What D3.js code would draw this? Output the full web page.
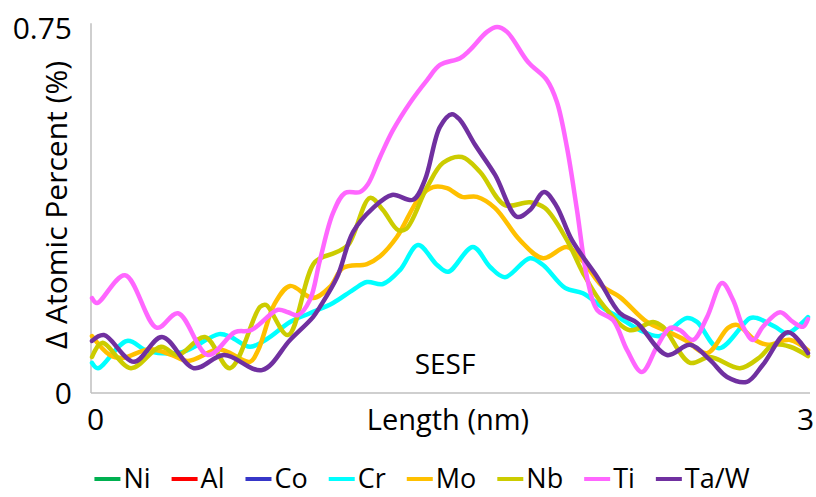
<!DOCTYPE html>
<html>
<head>
<meta charset="utf-8">
<script src="https://cdn.jsdelivr.net/npm/d3@7"></script>
<style>
  body { margin: 0; background: #fff; }
  text { font-family: "Open Sans", sans-serif; fill: #000; }
</style>
</head>
<body>
<svg id="chart" width="816" height="497"></svg>
<script>
// Axis ticks
const xTicks = [0, 3];
const yTicks = [0, 0.75];

// Series names and colours (legend order = drawing order)
const seriesNames = ["Ni", "Al", "Co", "Cr", "Mo", "Nb", "Ti", "Ta/W"];
const seriesColors = ["#00B050", "#FF0000", "#3636C8", "#00FFFF", "#FFC000", "#CCCC00", "#FF66FF", "#7030A0"];

// Profiles: [length (nm), Δ atomic percent (%)]
// Ni, Al and Co stay below the 0 baseline over this window, so only their keys appear.
const niData = [];
const alData = [];
const coData = [];

const crData = [
  [0, 0.062], [0.025, 0.051], [0.147, 0.107], [0.235, 0.086], [0.377, 0.084], [0.532, 0.121],
  [0.582, 0.115], [0.662, 0.095], [0.733, 0.111], [0.830, 0.146], [0.913, 0.164], [1.010, 0.185],
  [1.094, 0.212], [1.152, 0.228], [1.219, 0.224], [1.291, 0.253], [1.366, 0.304], [1.446, 0.263],
  [1.492, 0.249], [1.596, 0.300], [1.668, 0.259], [1.730, 0.238], [1.835, 0.277], [1.890, 0.263],
  [1.982, 0.216], [2.057, 0.205], [2.141, 0.175], [2.212, 0.154], [2.296, 0.129], [2.380, 0.117],
  [2.493, 0.154], [2.535, 0.146], [2.627, 0.092], [2.757, 0.154], [2.786, 0.154], [2.862, 0.136],
  [2.912, 0.123], [2.966, 0.140], [3.0, 0.156]
];

const moData = [
  [0, 0.117], [0.075, 0.078], [0.126, 0.072], [0.243, 0.090], [0.335, 0.078], [0.402, 0.066],
  [0.528, 0.090], [0.570, 0.084], [0.662, 0.064], [0.696, 0.088], [0.767, 0.185], [0.830, 0.220],
  [0.926, 0.195], [0.997, 0.218], [1.052, 0.257], [1.152, 0.265], [1.207, 0.281], [1.278, 0.321],
  [1.374, 0.403], [1.429, 0.423], [1.487, 0.421], [1.550, 0.403], [1.613, 0.403], [1.689, 0.380],
  [1.793, 0.314], [1.890, 0.277], [1.990, 0.300], [2.057, 0.271], [2.137, 0.220], [2.212, 0.197],
  [2.325, 0.146], [2.400, 0.129], [2.484, 0.109], [2.577, 0.082], [2.665, 0.134], [2.702, 0.140],
  [2.778, 0.109], [2.832, 0.099], [2.925, 0.109], [3.0, 0.088]
];

const nbData = [
  [0, 0.074], [0.042, 0.103], [0.163, 0.051], [0.289, 0.095], [0.360, 0.078], [0.473, 0.115],
  [0.578, 0.051], [0.704, 0.177], [0.729, 0.181], [0.821, 0.119], [0.934, 0.269], [1.018, 0.288],
  [1.073, 0.304], [1.165, 0.401], [1.219, 0.376], [1.282, 0.335], [1.316, 0.337], [1.404, 0.423],
  [1.471, 0.473], [1.550, 0.485], [1.626, 0.454], [1.730, 0.386], [1.835, 0.392], [1.898, 0.380],
  [1.990, 0.314], [2.057, 0.247], [2.141, 0.181], [2.254, 0.129], [2.351, 0.146], [2.392, 0.136],
  [2.506, 0.062], [2.589, 0.074], [2.715, 0.051], [2.799, 0.074], [2.853, 0.099], [2.925, 0.095],
  [3.0, 0.076]
];

const tiData = [
  [0, 0.195], [0.021, 0.185], [0.138, 0.242], [0.272, 0.134], [0.360, 0.164], [0.486, 0.078],
  [0.599, 0.125], [0.666, 0.129], [0.779, 0.171], [0.821, 0.166], [0.863, 0.160], [0.913, 0.191],
  [0.955, 0.273], [1.010, 0.370], [1.060, 0.411], [1.123, 0.413], [1.156, 0.429], [1.207, 0.485],
  [1.261, 0.540], [1.332, 0.596], [1.404, 0.643], [1.458, 0.674], [1.542, 0.688], [1.584, 0.705],
  [1.655, 0.742], [1.697, 0.752], [1.739, 0.742], [1.827, 0.680], [1.906, 0.643], [1.948, 0.598],
  [1.990, 0.505], [2.032, 0.376], [2.074, 0.238], [2.116, 0.171], [2.183, 0.150], [2.242, 0.088],
  [2.304, 0.043], [2.367, 0.095], [2.422, 0.134], [2.464, 0.129], [2.518, 0.109], [2.577, 0.156],
  [2.640, 0.226], [2.686, 0.191], [2.728, 0.136], [2.770, 0.109], [2.811, 0.136], [2.883, 0.166],
  [2.937, 0.146], [2.979, 0.136], [3.0, 0.152]
];

const tawData = [
  [0, 0.107], [0.050, 0.119], [0.176, 0.064], [0.293, 0.115], [0.427, 0.051], [0.553, 0.078],
  [0.712, 0.047], [0.830, 0.109], [0.926, 0.156], [0.955, 0.177], [1.027, 0.238], [1.094, 0.331],
  [1.177, 0.380], [1.257, 0.407], [1.345, 0.397], [1.395, 0.438], [1.458, 0.547], [1.508, 0.573],
  [1.542, 0.561], [1.605, 0.510], [1.689, 0.448], [1.781, 0.362], [1.835, 0.376], [1.894, 0.413],
  [1.944, 0.386], [2.011, 0.314], [2.120, 0.236], [2.212, 0.164], [2.284, 0.144], [2.409, 0.078],
  [2.506, 0.099], [2.589, 0.068], [2.661, 0.033], [2.744, 0.023], [2.811, 0.058], [2.916, 0.125],
  [3.0, 0.082]
];

const seriesData = [niData, alData, coData, crData, moData, nbData, tiData, tawData];

const svg = d3.select("#chart");
const x = d3.scaleLinear().domain([0, 3]).range([92, 808]);
const y = d3.scaleLinear().domain([0, 0.75]).range([393, 28]);
const axisColor = "#BFBFBF";

// Axis lines
svg.append("line")
  .attr("x1", x(0) - 1).attr("x2", x(0) - 1)
  .attr("y1", y(0)).attr("y2", y(0.76))
  .attr("stroke", axisColor).attr("stroke-width", 1.5);
svg.append("line")
  .attr("x1", x(0) - 1).attr("x2", x(3) + 2)
  .attr("y1", y(0)).attr("y2", y(0))
  .attr("stroke", axisColor).attr("stroke-width", 1.5);

// Y ticks
const yAxis = svg.append("g").attr("transform", `translate(${x(0) - 20},0)`)
  .call(d3.axisLeft(y).tickValues(yTicks).tickSize(0).tickFormat(d => d === 0 ? "0" : d3.format(".2f")(d)));
yAxis.select(".domain").remove();
yAxis.selectAll("text")
  .attr("x", 0).attr("dy", "0.36em")
  .style("font-family", "'Open Sans', sans-serif").style("font-size", "30px").attr("fill", "#000");

// X ticks
const xAxis = svg.append("g").attr("transform", `translate(0,${y(0) + 16})`)
  .call(d3.axisBottom(x).tickValues(xTicks).tickSize(0).tickFormat(d3.format("d")));
xAxis.select(".domain").remove();
xAxis.selectAll("text")
  .attr("y", 0).attr("dy", "0.71em")
  .attr("dx", d => (d === 0 ? 3 : -3))
  .style("font-family", "'Open Sans', sans-serif").style("font-size", "30px").attr("fill", "#000");

// Axis titles
svg.append("text")
  .attr("x", 448).attr("y", 430)
  .attr("text-anchor", "middle")
  .style("font-size", "29px")
  .text("Length (nm)");
svg.append("text")
  .attr("transform", "translate(67,205) rotate(-90)")
  .attr("text-anchor", "middle")
  .style("font-size", "30px")
  .text("Δ Atomic Percent (%)");

// Annotation
svg.append("text")
  .attr("x", 445).attr("y", 374)
  .attr("text-anchor", "middle")
  .style("font-size", "28px")
  .text("SESF");

// Profile lines
const line = d3.line()
  .x(d => x(d[0]))
  .y(d => y(d[1]))
  .curve(d3.curveCatmullRom.alpha(0.5));

svg.append("g").selectAll("path")
  .data(seriesData.map((d, i) => ({ values: d, color: seriesColors[i] })).filter(s => s.values.length))
  .join("path")
  .attr("d", s => line(s.values))
  .attr("fill", "none")
  .attr("stroke", s => s.color)
  .attr("stroke-width", 4.5)
  .attr("stroke-linejoin", "round")
  .attr("stroke-linecap", "round");

// Legend
const legend = svg.append("g");
const items = legend.selectAll("g").data(seriesNames).join("g");
items.append("line")
  .attr("x1", 0).attr("x2", 26).attr("y1", 0).attr("y2", 0)
  .attr("stroke", (d, i) => seriesColors[i]).attr("stroke-width", 4);
items.append("text")
  .attr("x", 29).attr("y", 9)
  .style("font-size", "27px")
  .text(d => d);
const gap = 21;
const widths = items.nodes().map(n => 29 + d3.select(n).select("text").node().getComputedTextLength());
const total = d3.sum(widths) + gap * (widths.length - 1);
const start = 422 - total / 2;
items.attr("transform", (d, i) => {
  const tx = start + d3.sum(widths.slice(0, i)) + gap * i;
  return `translate(${tx},479)`;
});
</script>
</body>
</html>
